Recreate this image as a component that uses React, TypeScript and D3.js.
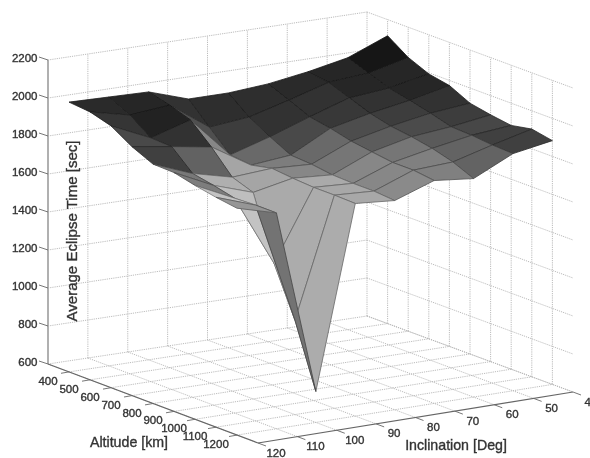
import * as d3 from 'd3';

const altitudes = [400, 500, 600, 700, 800, 900, 1000, 1100, 1200];
const inclinations = [120, 110, 100, 90, 80, 70, 60, 50, 40];
const zTicks = [600, 800, 1000, 1200, 1400, 1600, 1800, 2000, 2200];

// eclipse time [sec], one array per inclination, altitude 400..1200
const time120 = [2020, 2010, 1978, 1910, 1860, 1857, 1831, 1810, 1794];
const time110 = [2015, 1962, 1883, 1878, 1778, 1757, 1731, 1736, 1736];
const time100 = [2010, 1982, 1945, 1844, 1726, 1687, 1355, 1097, 763];
const time90 = [1941, 1834, 1729, 1716, 1740, 1729, 1722, 1722, 1719];
const time80 = [1941, 1855, 1792, 1736, 1729, 1714, 1710, 1710, 1701];
const time70 = [1957, 1912, 1865, 1845, 1818, 1802, 1787, 1787, 1773];
const time60 = [1989, 1974, 1933, 1891, 1864, 1849, 1828, 1797, 1750];
const time50 = [2031, 1990, 1953, 1927, 1900, 1869, 1864, 1853, 1848];
const time40 = [2115, 2041, 1994, 1973, 1920, 1899, 1883, 1904, 1883];
const times = [time120, time110, time100, time90, time80, time70, time60, time50, time40];

// colour data of each patch (0 black .. 255 white), one array per altitude band,
// inclination bands 120-110 .. 50-40
const cdata400 = [44, 40, 50, 45, 45, 42, 38, 25];
const cdata500 = [52, 35, 80, 62, 50, 48, 40, 38];
const cdata600 = [72, 50, 135, 105, 72, 55, 48, 40];
const cdata700 = [65, 98, 165, 125, 105, 78, 62, 50];
const cdata800 = [120, 175, 165, 135, 118, 92, 75, 60];
const cdata900 = [125, 190, 170, 170, 135, 118, 90, 70];
const cdata1000 = [195, 195, 172, 168, 135, 128, 100, 65];
const cdata1100 = [150, 115, 172, 168, 138, 128, 100, 65];
const cdata = [cdata400, cdata500, cdata600, cdata700, cdata800, cdata900, cdata1000, cdata1100];

const zLabel = 'Average Eclipse Time [sec]';
const altLabel = 'Altitude [km]';
const incLabel = 'Inclination [Deg]';

const width = 590;
const height = 458;

// screen position of the floor corners of the box
const cornerL = [48, 364]; // alt 300, inc 120
const cornerF = [258, 443]; // alt 1300, inc 120
const cornerB = [367, 316]; // alt 300, inc 40
const cornerR = [573, 392]; // alt 1300, inc 40

const uScale = d3.scaleLinear().domain([300, 1300]).range([0, 1]);
const vScale = d3.scaleLinear().domain([120, 40]).range([0, 1]);
const zScale = d3.scaleLinear().domain([600, 2200]).range([0, 304]);
const gray = d3.scaleLinear<string>().domain([0, 255]).range(['#000000', '#ffffff']);

function project(alt: number, inc: number, z = 600): [number, number] {
  const u = uScale(alt);
  const v = vScale(inc);
  const at = (k: number) =>
    (1 - v) * ((1 - u) * cornerL[k] + u * cornerF[k]) + v * ((1 - u) * cornerB[k] + u * cornerR[k]);
  return [at(0), at(1) - zScale(z)];
}

function segment(a: [number, number], b: [number, number]) {
  return { x1: a[0], y1: a[1], x2: b[0], y2: b[1] };
}

const line = d3.line();

export default function App() {
  const gridProps = { stroke: '#b4b4b4', strokeWidth: 0.9, strokeDasharray: '1.2 1' };
  const textProps = { fill: '#333', stroke: '#333', strokeWidth: 0.35 };
  const [altMin, altMax] = uScale.domain();
  const [incMax, incMin] = vScale.domain();
  const zTop = zTicks[zTicks.length - 1];

  // patches, far ones first
  const cells: { key: string; path: string; fill: string; edge: string; depth: number }[] = [];
  for (let i = 0; i < altitudes.length - 1; i++) {
    for (let j = 0; j < inclinations.length - 1; j++) {
      const pts = [
        project(altitudes[i], inclinations[j], times[j][i]),
        project(altitudes[i + 1], inclinations[j], times[j][i + 1]),
        project(altitudes[i + 1], inclinations[j + 1], times[j + 1][i + 1]),
        project(altitudes[i], inclinations[j + 1], times[j + 1][i]),
      ];
      cells.push({
        key: `${i}-${j}`,
        path: line(pts) + 'Z',
        fill: gray(cdata[i][j]),
        edge: gray(cdata[i][j] * 0.6),
        depth: i - j,
      });
    }
  }
  cells.sort((a, b) => a.depth - b.depth);

  return (
    <svg
      width={width}
      height={height}
      style={{ position: 'absolute', left: 0, top: 0, background: '#fff' }}
      fontFamily="'Liberation Sans', Arial, sans-serif"
    >
      <defs>
        <filter id="soft" x="-5%" y="-5%" width="110%" height="110%">
          <feGaussianBlur stdDeviation="0.55" />
        </filter>
      </defs>
      <g filter="url(#soft)">
        {/* back walls */}
        {zTicks.map(z => (
          <g key={z}>
            <line {...segment(project(altMin, incMax, z), project(altMin, incMin, z))} {...gridProps} />
            <line {...segment(project(altMin, incMin, z), project(altMax, incMin, z))} {...gridProps} />
          </g>
        ))}
        {inclinations.slice(1, -1).concat(incMin).map(inc => (
          <line key={inc} {...segment(project(altMin, inc, 600), project(altMin, inc, zTop))} {...gridProps} />
        ))}
        {altitudes.map(alt => (
          <line key={alt} {...segment(project(alt, incMin, 600), project(alt, incMin, zTop))} {...gridProps} />
        ))}
        {/* floor */}
        {altitudes.map(alt => (
          <line key={alt} {...segment(project(alt, incMax), project(alt, incMin))} {...gridProps} />
        ))}
        {inclinations.map(inc => (
          <line key={inc} {...segment(project(altMin, inc), project(altMax, inc))} {...gridProps} />
        ))}

        {/* axes */}
        <line {...segment(project(altMin, incMax, 600), project(altMin, incMax, zTop))} stroke="#b0b0b0" strokeWidth={2} />
        <line {...segment(project(altMin, incMax), project(altMax, incMax))} stroke="#666" strokeWidth={1.2} />
        <line {...segment(project(altMax, incMax), project(altMax, incMin))} stroke="#666" strokeWidth={1.2} />

        {zTicks.map(z => {
          const [x, y] = project(altMin, incMax, z);
          return (
            <g key={z}>
              <line x1={x - 9} y1={y - 3} x2={x} y2={y} stroke="#666" strokeWidth={0.9} />
              <text x={37.5} y={y + 1.5} textAnchor="end" fontSize={11.5} {...textProps}>
                {z}
              </text>
            </g>
          );
        })}
        {altitudes.map(alt => {
          const [x, y] = project(alt, incMax);
          return (
            <g key={alt}>
              <line x1={x} y1={y} x2={x - 8} y2={y + 1.4} stroke="#666" strokeWidth={0.9} />
              <text x={x - 21} y={y + 13} textAnchor="middle" fontSize={11.5} {...textProps}>
                {alt}
              </text>
            </g>
          );
        })}
        {inclinations.map(inc => {
          const [x, y] = project(altMax, inc);
          return (
            <g key={inc}>
              <line x1={x} y1={y} x2={x + 8} y2={y + 3} stroke="#666" strokeWidth={0.9} />
              <text x={x + 18} y={y + 13.5} textAnchor="middle" fontSize={11.5} {...textProps}>
                {inc}
              </text>
            </g>
          );
        })}

        {/* surface */}
        {cells.map(c => (
          <path key={c.key} d={c.path} fill={c.fill} stroke={c.edge} strokeWidth={0.8} strokeLinejoin="round" />
        ))}

        {/* titles */}
        <text x={129} y={447} textAnchor="middle" fontSize={14.2} {...textProps}>
          {altLabel}
        </text>
        <text x={456} y={449.5} textAnchor="middle" fontSize={14.2} {...textProps}>
          {incLabel}
        </text>
        <text
          transform="translate(77,231) rotate(-90)"
          textAnchor="middle"
          fontSize={14.2}
          textLength={181}
          lengthAdjust="spacingAndGlyphs"
          {...textProps}
        >
          {zLabel}
        </text>
      </g>
    </svg>
  );
}
